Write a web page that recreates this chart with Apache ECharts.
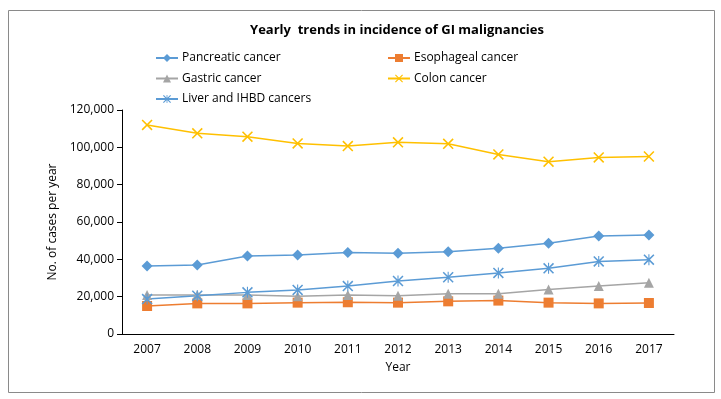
<!DOCTYPE html>
<html>
<head>
<meta charset="utf-8">
<script src="https://cdn.jsdelivr.net/npm/echarts@6/dist/echarts.min.js"></script>
<style>
  html, body { margin: 0; padding: 0; background: #fff; }
  #main { width: 721px; height: 399px; }
</style>
</head>
<body>
<div id="main"></div>
<script>
// 数据
const years = ["2007", "2008", "2009", "2010", "2011", "2012", "2013", "2014", "2015", "2016", "2017"];
const pancreatic = [36400, 37000, 41800, 42300, 43600, 43200, 44100, 45900, 48600, 52500, 53000];
const esophageal = [15000, 16400, 16400, 16800, 17000, 16800, 17500, 17900, 16800, 16400, 16600];
const gastric = [20900, 20900, 20900, 20200, 20900, 20500, 21600, 21600, 23900, 25700, 27500];
const colon = [112000, 107500, 105700, 102100, 100700, 102700, 101900, 96200, 92300, 94600, 95100];
const liver = [18700, 20500, 22300, 23600, 25700, 28400, 30400, 32700, 35200, 38900, 39800];

// 标记形状
const xMark = "path://M0,1 L1,0 L10,9 L9,10 Z M9,0 L10,1 L1,10 L0,9 Z";
const starMark = "path://M4.5,0 L5.5,0 L5.5,10 L4.5,10 Z M0,1 L1,0 L10,9 L9,10 Z M9,0 L10,1 L1,10 L0,9 Z";

const font = "'Open Sans', 'Noto Sans', sans-serif";

function makeSeries(name, data, color, symbol, size) {
  return {
    name: name,
    type: "line",
    data: data,
    symbol: symbol,
    symbolSize: size,
    lineStyle: { color: color, width: 1.5 },
    itemStyle: { color: color },
    emphasis: { disabled: true }
  };
}

const legendText = { fontFamily: font, fontSize: 12, color: "#000", padding: [0, 0, 0, -1] };

const chart = echarts.init(document.getElementById("main"));

const option = {
  animation: false,
  textStyle: { fontFamily: font },
  title: {
    text: "Yearly  trends in incidence of GI malignancies",
    left: 392,
    top: 19,
    textAlign: "center",
    textStyle: { fontFamily: font, fontSize: 13, fontWeight: "bold", color: "#000" }
  },
  graphic: [{
    type: "rect",
    shape: { x: 8.5, y: 10.5, width: 706, height: 382 },
    style: { fill: "none", stroke: "#8a8a8a", lineWidth: 1 },
    silent: true
  }],
  legend: [
    {
      orient: "vertical",
      left: 150,
      top: 47,
      itemGap: 8.5,
      itemWidth: 22,
      itemHeight: 10,
      data: ["Pancreatic cancer", "Gastric cancer", "Liver and IHBD cancers"],
      textStyle: legendText
    },
    {
      orient: "vertical",
      left: 382,
      top: 47,
      itemGap: 8.5,
      itemWidth: 22,
      itemHeight: 10,
      data: ["Esophageal cancer", "Colon cancer"],
      textStyle: legendText
    }
  ],
  grid: { left: 122, right: 47, top: 110, bottom: 65 },
  xAxis: {
    type: "category",
    data: years,
    boundaryGap: true,
    name: "Year",
    nameLocation: "middle",
    nameGap: 28,
    nameTextStyle: { fontFamily: font, fontSize: 12, color: "#000" },
    axisLine: { lineStyle: { color: "#000", width: 1 } },
    axisTick: { alignWithLabel: true, length: 5, lineStyle: { color: "#000" } },
    axisLabel: { color: "#000", fontSize: 12, margin: 10, fontFamily: font }
  },
  yAxis: {
    type: "value",
    min: 0,
    max: 120000,
    interval: 20000,
    name: "No. of cases per year",
    nameLocation: "middle",
    nameGap: 57,
    nameTextStyle: { fontFamily: font, fontSize: 12, color: "#000" },
    axisLine: { show: true, lineStyle: { color: "#000", width: 1 } },
    axisTick: { show: true, length: 5, lineStyle: { color: "#000" } },
    splitLine: { show: false },
    axisLabel: {
      color: "#000",
      fontSize: 12,
      fontFamily: font,
      margin: 8,
      formatter: v => v.toLocaleString("en-US")
    }
  },
  series: [
    makeSeries("Pancreatic cancer", pancreatic, "#5b9bd5", "diamond", 11),
    makeSeries("Esophageal cancer", esophageal, "#ed7d31", "rect", 10),
    makeSeries("Gastric cancer", gastric, "#a5a5a5", "triangle", 10),
    makeSeries("Colon cancer", colon, "#ffc000", xMark, 11),
    makeSeries("Liver and IHBD cancers", liver, "#5b9bd5", starMark, 11)
  ]
};

chart.setOption(option);
</script>
</body>
</html>
